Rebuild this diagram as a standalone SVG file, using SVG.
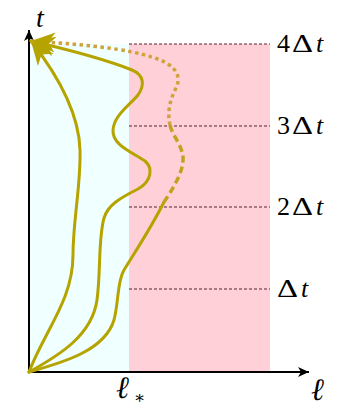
<svg xmlns="http://www.w3.org/2000/svg" width="337" height="408" viewBox="0 0 337 408">
<style>
.lbl{font-family:"Liberation Serif","DejaVu Serif",serif;fill:#000}
.it{font-style:italic}
.grid{stroke:#5a2030;stroke-width:1.2;stroke-dasharray:3 2;fill:none}
.c{fill:none;stroke:#b5a400;stroke-width:3;stroke-linecap:round}
.dash{fill:none;stroke:#c2a21c;stroke-width:3.5;stroke-dasharray:7 4}
.dot{fill:none;stroke:#cfa23a;stroke-width:3.5;stroke-dasharray:3.5 3.5}
.axis{stroke:#000;stroke-width:2;fill:none}
</style>
<defs>
<marker id="ah" viewBox="-12 -6 13 12" refX="0" refY="0" markerWidth="13" markerHeight="12" markerUnits="userSpaceOnUse" orient="auto">
<path d="M0,0 L-11,-5 L-8,0 L-11,5 Z" fill="#000"/>
</marker>
<marker id="yh" viewBox="-26 -12 27 24" refX="0" refY="0" markerWidth="27" markerHeight="24" markerUnits="userSpaceOnUse" orient="auto">
<path d="M0,0 L-24,-10 L-17,0 L-24,10 Z" fill="#b5a400"/>
</marker>
</defs>
<g id="regions">
<rect x="29" y="44" width="100" height="328" fill="#f0ffff"/>
<rect x="129" y="44" width="141" height="328" fill="#ffd0d8"/>
</g>
<g id="gridlines">
<line class="grid" x1="129" y1="44" x2="270" y2="44"/>
<line class="grid" x1="129" y1="126" x2="270" y2="126"/>
<line class="grid" x1="129" y1="207" x2="270" y2="207"/>
<line class="grid" x1="129" y1="289" x2="270" y2="289"/>
</g>
<g id="axes">
<line class="axis" x1="29" y1="373" x2="29" y2="30" marker-end="url(#ah)"/>
<line class="axis" x1="28" y1="372" x2="309" y2="372" marker-end="url(#ah)"/>
</g>
<g id="connectors">
<path id="path1" class="c" d="M29,372 C45,330 73,300 73,255 C73,220 81,185 80,150 C79,115 60,78 31,41" marker-end="url(#yh)"/>
<path id="path2" class="c" d="M29,372 C60,355 92,335 97,300 C101,270 98,240 104,218 C108,205 120,198 138,189 C152,181 153,168 145,161 C132,152 112,145 113,130 C114,115 130,105 138,95 C145,85 144,75 132,70 C112,62 70,50 31,41" marker-end="url(#yh)"/>
<path id="path3a" class="c" d="M29,372 C65,362 105,350 114,320 C119,300 117,282 124,270 C133,255 150,230 164,202"/>
<path id="path3b" class="dash" d="M164,202 C172,190 184,172 183,157 C182,145 172,135 170,125"/>
<path id="path3c" class="dot" d="M170,125 C167,112 170,100 176,88 C182,76 175,66 160,60 C140,52 110,46 31,41" marker-end="url(#yh)"/>
</g>
<g id="labels" class="lbl" style="font-size:26px">
<text x="277" y="52">4</text><text x="292" y="52" textLength="21" lengthAdjust="spacingAndGlyphs">Δ</text><text class="it" x="316" y="52">t</text>
<text x="277" y="134">3</text><text x="292" y="134" textLength="21" lengthAdjust="spacingAndGlyphs">Δ</text><text class="it" x="316" y="134">t</text>
<text x="277" y="215">2</text><text x="292" y="215" textLength="21" lengthAdjust="spacingAndGlyphs">Δ</text><text class="it" x="316" y="215">t</text>
<text x="277" y="297" textLength="21" lengthAdjust="spacingAndGlyphs">Δ</text><text class="it" x="301" y="297">t</text>
<text class="it" x="36" y="27" style="font-size:28px">t</text>
<text class="it" x="311" y="400" style="font-size:31px">ℓ</text>
<text class="it" x="116" y="398" style="font-size:31px">ℓ</text><text x="134" y="403" style="font-size:17px">∗</text>
</g>
</svg>
